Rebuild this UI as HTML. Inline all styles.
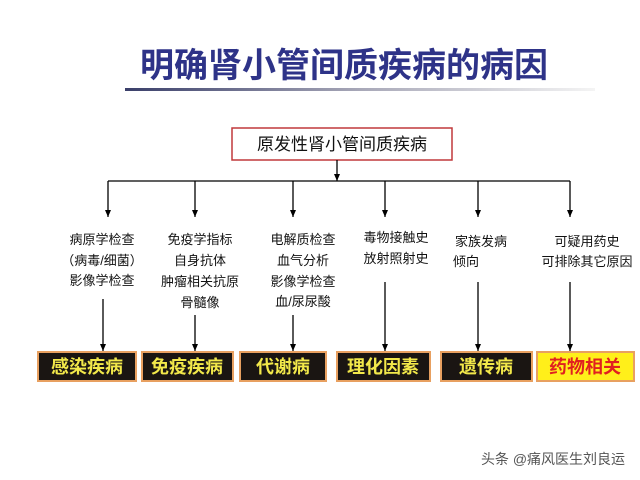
<!DOCTYPE html>
<html><head><meta charset="utf-8"><style>
html,body{margin:0;padding:0;background:#fff;}
svg{display:block;}
text{font-family:"Liberation Sans","Noto Sans CJK SC",sans-serif;}
</style></head><body>
<svg width="640" height="480" viewBox="0 0 640 480" xmlns="http://www.w3.org/2000/svg">
<defs>
<linearGradient id="ul" x1="0" x2="1"><stop offset="0" stop-color="#3a3f6a"/><stop offset="0.5" stop-color="#a8a8b8"/><stop offset="1" stop-color="#f4f4f4"/></linearGradient>
<marker id="ar" markerWidth="8" markerHeight="8" refX="7" refY="4" orient="auto" markerUnits="userSpaceOnUse"><path d="M0,1 L7,4 L0,7 Z" fill="#000"/></marker>
</defs>
<text x="140" y="77" font-size="34" font-weight="bold" fill="#2e3388">明确肾小管间质疾病的病因</text>
<rect x="125" y="88" width="470" height="3" fill="url(#ul)"/>
<rect x="232" y="128" width="220" height="32" fill="#fff" stroke="#c0393b" stroke-width="1.5"/>
<text x="342" y="150" font-size="17" text-anchor="middle" fill="#111">原发性肾小管间质疾病</text>
<g stroke="#000" stroke-width="1.3" fill="none">
<line x1="337" y1="160" x2="337" y2="181" marker-end="url(#ar)"/>
<line x1="108" y1="181" x2="570" y2="181"/>
<line x1="108" y1="181" x2="108" y2="217" marker-end="url(#ar)"/>
<line x1="195" y1="181" x2="195" y2="217" marker-end="url(#ar)"/>
<line x1="293" y1="181" x2="293" y2="217" marker-end="url(#ar)"/>
<line x1="385" y1="181" x2="385" y2="217" marker-end="url(#ar)"/>
<line x1="478" y1="181" x2="478" y2="217" marker-end="url(#ar)"/>
<line x1="570" y1="181" x2="570" y2="217" marker-end="url(#ar)"/>
<line x1="103" y1="299" x2="103" y2="351" marker-end="url(#ar)"/>
<line x1="195" y1="315" x2="195" y2="351" marker-end="url(#ar)"/>
<line x1="293" y1="315" x2="293" y2="351" marker-end="url(#ar)"/>
<line x1="385" y1="282" x2="385" y2="351" marker-end="url(#ar)"/>
<line x1="478" y1="282" x2="478" y2="351" marker-end="url(#ar)"/>
<line x1="570" y1="282" x2="570" y2="351" marker-end="url(#ar)"/>
</g>
<g font-size="13" fill="#111" text-anchor="middle">
<text x="102" y="244">病原学检查</text><text x="102" y="265">（病毒/细菌）</text><text x="102" y="285">影像学检查</text>
<text x="200" y="244">免疫学指标</text><text x="200" y="265">自身抗体</text><text x="200" y="286">肿瘤相关抗原</text><text x="200" y="307">骨髓像</text>
<text x="303" y="244">电解质检查</text><text x="303" y="265">血气分析</text><text x="303" y="286">影像学检查</text><text x="303" y="306">血/尿尿酸</text>
<text x="396" y="242">毒物接触史</text><text x="396" y="263">放射照射史</text>
<text x="481" y="246">家族发病</text>
<text x="587" y="246">可疑用药史</text><text x="587" y="266">可排除其它原因</text>
</g>
<text x="453" y="266" font-size="13" fill="#111">倾向</text>
<g stroke="#e8a060" stroke-width="2">
<rect x="38" y="352" width="98" height="29" fill="#1a1512"/>
<rect x="142" y="352" width="91" height="29" fill="#1a1512"/>
<rect x="240" y="352" width="86" height="29" fill="#1a1512"/>
<rect x="337" y="352" width="93" height="29" fill="#1a1512"/>
<rect x="441" y="352" width="91" height="29" fill="#1a1512"/>
<rect x="537" y="352" width="97" height="29" fill="#ffef1a"/>
</g>
<g font-size="18" text-anchor="middle" fill="#f2e84a" font-weight="bold">
<text x="87" y="373">感染疾病</text>
<text x="187" y="373">免疫疾病</text>
<text x="283" y="373">代谢病</text>
<text x="383" y="373">理化因素</text>
<text x="486" y="373">遗传病</text>
<text x="585" y="373" fill="#e02020">药物相关</text>
</g>
<text x="553" y="464" font-size="14" text-anchor="middle" fill="#555">头条 @痛风医生刘良运</text>
</svg>
</body></html>
